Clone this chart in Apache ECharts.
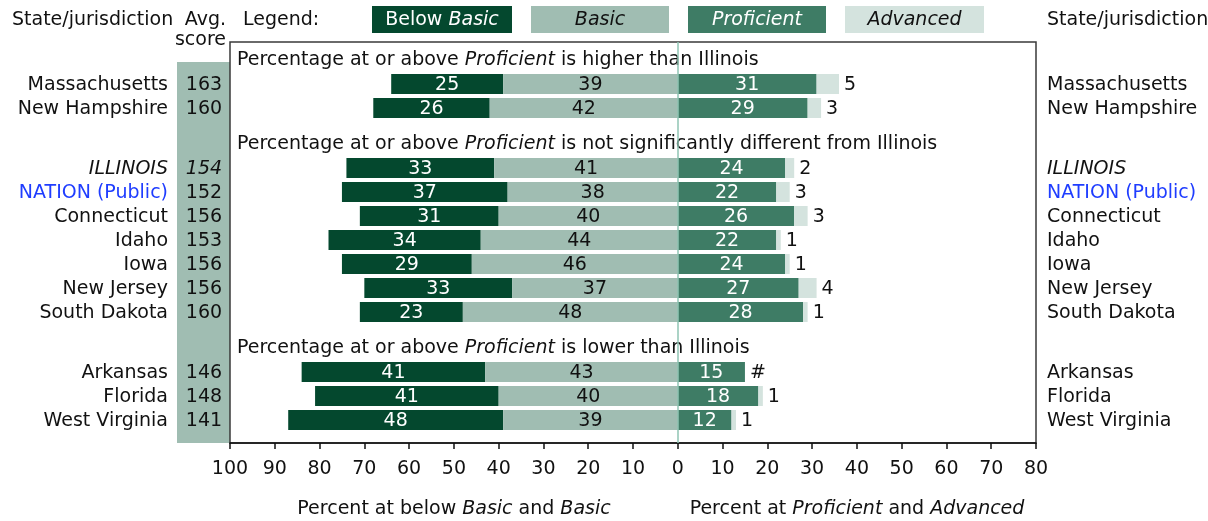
<!DOCTYPE html>
<html><head><meta charset="utf-8">
<script src="https://cdn.jsdelivr.net/npm/echarts@6/dist/echarts.min.js"></script>
<style>html,body{margin:0;padding:0;background:#fff}#c{width:1208px;height:521px}</style>
</head><body><div id="c"></div>
<script>
// ---- data ----
const states = ['Massachusetts','New Hampshire','ILLINOIS','NATION (Public)','Connecticut','Idaho','Iowa','New Jersey','South Dakota','Arkansas','Florida','West Virginia'];
const scores = [163,160,154,152,156,153,156,156,160,146,148,141];
const belowBasic = [25,26,33,37,31,34,29,33,23,41,41,48];
const basic = [39,42,41,38,40,44,46,37,48,43,40,39];
const proficient = [31,29,24,22,26,22,24,27,28,15,18,12];
const advanced = [5,3,2,3,3,1,1,4,1,0,1,1];
const advancedLabels = ['5','3','2','3','3','1','1','4','1','#','1','1'];
const groupHeaders = ['is higher than Illinois','is not significantly different from Illinois','is lower than Illinois'];
const groupSizes = [2,7,3];
const levelNames = ['Below Basic','Basic','Proficient','Advanced'];

// ---- styles ----
const FONT = 'DejaVu Sans';
const FS = 19;
const C = {below:'#04482e', basic:'#a0bdb2', prof:'#3e7c65', adv:'#d4e3de', band:'#a0bdb2', zero:'#8fc4b3', text:'#111', nation:'#1f3dff'};
const BAR_H = 20;
const GRID = {left:230, top:42, width:806, height:401};
const SLOT = 12; // px per half-row

// layout slots (half rows)
const headerSlots = [], stateSlots = [];
(function(){ let s = 1; groupSizes.forEach(n => { headerSlots.push(s); s += 2; for (let k=0;k<n;k++){ stateSlots.push(s); s += 2; } s += 1; }); })();

const chart = echarts.init(document.getElementById('c'), null, {renderer:'canvas'});
const font = (st) => (st||'normal') + ' ' + FS + 'px "' + FONT + '"';
const rich = (color) => ({n:{fontFamily:FONT,fontSize:FS,fill:color,color:color},i:{fontFamily:FONT,fontSize:FS,fontStyle:'italic',fill:color,color:color}});

function barItem(params, api){
  const i = api.value(0);
  const y = stateSlots[i] + 0.5;
  const segs = [
    [-(belowBasic[i]+basic[i]), -basic[i], C.below, String(belowBasic[i]), '#fff'],
    [-basic[i], 0, C.basic, String(basic[i]), C.text],
    [0, proficient[i], C.prof, String(proficient[i]), '#fff'],
    [proficient[i], proficient[i]+advanced[i], C.adv, null, null]
  ];
  const ch = [];
  segs.forEach(sg => {
    const p0 = api.coord([sg[0], y]), p1 = api.coord([sg[1], y]);
    ch.push({type:'rect', shape:{x:p0[0], y:p0[1]-BAR_H/2, width:p1[0]-p0[0], height:BAR_H}, style:{fill:sg[2]}});
    if (sg[3]) ch.push({type:'text', z2:5, style:{text:sg[3], x:(p0[0]+p1[0])/2, y:p0[1]+1, align:'center', verticalAlign:'middle', fill:sg[4], font:font()}});
  });
  const pe = api.coord([proficient[i]+advanced[i], y]);
  ch.push({type:'text', style:{text:advancedLabels[i], x:pe[0]+5, y:pe[1]+1, align:'left', verticalAlign:'middle', fill:C.text, font:font()}});
  // row labels
  const pl = api.coord([-100, y]), pr = api.coord([80, y]);
  const isIL = states[i] === 'ILLINOIS';
  const nameColor = states[i].indexOf('NATION') === 0 ? C.nation : C.text;
  ch.push({type:'text', style:{text:states[i], x:pl[0]-62, y:pl[1]+1, align:'right', verticalAlign:'middle', fill:nameColor, font:font(isIL?'italic':'normal')}});
  ch.push({type:'text', style:{text:String(scores[i]), x:pl[0]-26, y:pl[1]+1, align:'center', verticalAlign:'middle', fill:C.text, font:font(isIL?'italic':'normal')}});
  ch.push({type:'text', style:{text:states[i], x:pr[0]+11, y:pr[1]+1, align:'left', verticalAlign:'middle', fill:nameColor, font:font(isIL?'italic':'normal')}});
  return {type:'group', children:ch};
}

function headerItem(params, api){
  const g = api.value(0);
  const p = api.coord([-100, headerSlots[g] + 0.5]);
  return {type:'text', style:{text:'{n|Percentage at or above }{i|Proficient}{n| ' + groupHeaders[g] + '}', x:p[0]+7, y:p[1], align:'left', verticalAlign:'middle', rich:rich(C.text)}};
}

const legendBoxes = [
  {x:372, w:140, fill:C.below, text:'{n|Below }{i|Basic}', col:'#fff'},
  {x:531, w:138, fill:C.basic, text:'{i|Basic}', col:C.text},
  {x:688, w:138, fill:C.prof, text:'{i|Proficient}', col:'#fff'},
  {x:845, w:139, fill:C.adv, text:'{i|Advanced}', col:C.text}
];
const graphic = [
  {type:'rect', z:-1, shape:{x:177, y:62, width:53, height:381}, style:{fill:C.band}},
  {type:'text', style:{text:'State/jurisdiction', x:12, y:20, verticalAlign:'middle', fill:C.text, font:font()}},
  {type:'text', style:{text:'Avg.', x:226, y:20, align:'right', verticalAlign:'middle', fill:C.text, font:font()}},
  {type:'text', style:{text:'score', x:226, y:40, align:'right', verticalAlign:'middle', fill:C.text, font:font()}},
  {type:'text', style:{text:'Legend:', x:243, y:20, verticalAlign:'middle', fill:C.text, font:font()}},
  {type:'text', style:{text:'State/jurisdiction', x:1047, y:20, verticalAlign:'middle', fill:C.text, font:font()}},
  {type:'text', style:{text:'{n|Percent at below }{i|Basic}{n| and }{i|Basic}', x:454, y:509, align:'center', verticalAlign:'middle', rich:rich(C.text)}},
  {type:'text', style:{text:'{n|Percent at }{i|Proficient}{n| and }{i|Advanced}', x:857, y:509, align:'center', verticalAlign:'middle', rich:rich(C.text)}}
];
legendBoxes.forEach(b => {
  graphic.push({type:'rect', shape:{x:b.x, y:6, width:b.w, height:27}, style:{fill:b.fill}});
  graphic.push({type:'text', style:{text:b.text, x:b.x+b.w/2, y:20, align:'center', verticalAlign:'middle', rich:rich(b.col)}});
});

chart.setOption({
  animation:false,
  backgroundColor:'#fff',
  grid:{left:GRID.left, top:GRID.top, width:GRID.width, height:GRID.height, show:true, borderColor:'#3a3a3a', borderWidth:1.5, backgroundColor:'transparent'},
  xAxis:{type:'value', position:'bottom', min:-100, max:80, interval:10,
    axisLine:{show:true, onZero:false, lineStyle:{color:'#111', width:1.5}},
    axisTick:{show:true, length:6, lineStyle:{color:'#111', width:1.5}},
    axisLabel:{margin:17, color:C.text, fontFamily:FONT, fontSize:FS, formatter:v => String(Math.abs(v))},
    splitLine:{show:false}},
  yAxis:{type:'value', inverse:true, min:0, max:GRID.height/SLOT, show:false},
  graphic:graphic,
  series:[
    {type:'custom', name:'bars', data:states.map((s,i)=>[i]), renderItem:barItem, clip:false,
     markLine:{silent:true, symbol:'none', z:10, label:{show:false}, lineStyle:{color:C.zero, width:1.5, type:'solid'}, data:[{xAxis:0}]}},
    {type:'custom', name:'headers', data:groupHeaders.map((h,g)=>[g]), renderItem:headerItem, clip:false}
  ]
});
</script></body></html>
